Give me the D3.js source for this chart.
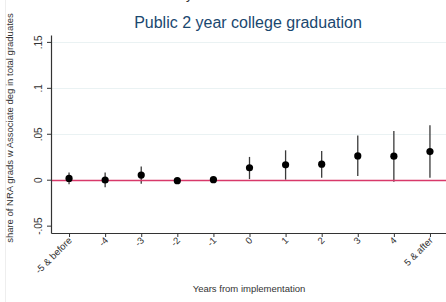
<!DOCTYPE html>
<html>
<head>
<meta charset="utf-8">
<script src="https://cdn.jsdelivr.net/npm/d3@7"></script>
<style>
  body { margin: 0; background: #fff; }
  svg { display: block; font-family: "Liberation Sans", Arial, sans-serif; }
</style>
</head>
<body>
<svg id="chart" width="446" height="302"></svg>
<script>
// event-study estimates
var periods = ["-5 & before", "-4", "-3", "-2", "-1", "0", "1", "2", "3", "4", "5 & after"];
var estimates = [0.0014, -0.0003, 0.005, -0.001, 0.0, 0.013, 0.0162, 0.0169, 0.0259, 0.0256, 0.0306];
var ciLower = [-0.005, -0.0083, -0.0043, -0.003, -0.001, 0.0007, 0.0, 0.0022, 0.004, -0.0022, 0.0022];
var ciUpper = [0.0079, 0.0079, 0.0144, 0.001, 0.001, 0.0248, 0.032, 0.0313, 0.048, 0.053, 0.0594];
var yTicks = [-0.05, 0, 0.05, 0.1, 0.15];
var yTickLabels = ["-.05", "0", ".05", ".1", ".15"];

var svg = d3.select("#chart");

var x = d3.scaleLinear().domain([-0.5, 10.5]).range([51, 448]);
var y = d3.scaleLinear().domain([-0.058, 0.1575]).range([233, 35]);

// faint frame edge on the left
svg.append("line")
  .attr("x1", 5.5).attr("x2", 5.5).attr("y1", 0).attr("y2", 302)
  .style("stroke", "#eeeeee").style("stroke-width", 1);

// cut off text at the very top
svg.append("text")
  .attr("x", 186).attr("y", -1)
  .style("font-size", "13px").style("fill", "#333")
  .text("y");

// gridlines
svg.append("g").selectAll("line")
  .data(yTicks.filter(function(d) { return d > 0; }))
  .enter().append("line")
  .attr("x1", 51).attr("x2", 446)
  .attr("y1", function(d) { return Math.round(y(d)) + 0.5; })
  .attr("y2", function(d) { return Math.round(y(d)) + 0.5; })
  .style("stroke", "#eaf2f3").style("stroke-width", 1);

// points and CIs
svg.append("g").selectAll("line")
  .data(periods)
  .enter().append("line")
  .attr("x1", function(d, i) { return x(i); })
  .attr("x2", function(d, i) { return x(i); })
  .attr("y1", function(d, i) { return y(ciLower[i]); })
  .attr("y2", function(d, i) { return y(ciUpper[i]); })
  .style("stroke", "#3a3a3a").style("stroke-width", 1.3);

// zero line
svg.append("line")
  .attr("x1", 51).attr("x2", 446)
  .attr("y1", Math.round(y(0)) + 0.5).attr("y2", Math.round(y(0)) + 0.5)
  .style("stroke", "#d8386a").style("stroke-width", 1.4);

svg.append("g").selectAll("circle")
  .data(estimates)
  .enter().append("circle")
  .attr("cx", function(d, i) { return x(i); })
  .attr("cy", function(d) { return y(d); })
  .attr("r", 3.6)
  .style("fill", "#000");

// y axis
var yAxis = d3.axisLeft(y)
  .tickValues(yTicks)
  .tickFormat(function(d, i) { return yTickLabels[i]; })
  .tickSize(4)
  .tickSizeOuter(0);

var gy = svg.append("g")
  .attr("transform", "translate(51,0)")
  .call(yAxis);
gy.select(".domain").style("stroke", "#333").style("stroke-width", 1.2);
gy.selectAll(".tick line").style("stroke", "#333");
gy.selectAll(".tick text")
  .attr("transform", "rotate(-90)")
  .attr("x", 0)
  .attr("y", -9)
  .attr("dy", "0")
  .attr("text-anchor", "middle")
  .style("font-size", "10px")
  .style("fill", "#333");

// x axis
var xAxis = d3.axisBottom(x)
  .tickValues(d3.range(periods.length))
  .tickFormat(function(d) { return periods[d]; })
  .tickSize(4)
  .tickSizeOuter(0);

var gx = svg.append("g")
  .attr("transform", "translate(0,233)")
  .call(xAxis);
gx.select(".domain").style("stroke", "#333").style("stroke-width", 1.2);
gx.selectAll(".tick line").style("stroke", "#333");
gx.selectAll(".tick text")
  .attr("y", 0)
  .attr("dy", 0)
  .attr("text-anchor", "end")
  .attr("transform", "translate(3,8) rotate(-45)")
  .style("font-size", "9.5px")
  .style("fill", "#333");

// titles
svg.append("text")
  .attr("x", 248).attr("y", 28)
  .attr("text-anchor", "middle")
  .style("font-size", "16px")
  .style("fill", "#1a476f")
  .text("Public 2 year college graduation");

svg.append("text")
  .attr("x", 249).attr("y", 292)
  .attr("text-anchor", "middle")
  .style("font-size", "9.5px")
  .style("fill", "#333")
  .text("Years from implementation");

svg.append("text")
  .attr("transform", "translate(13,128) rotate(-90)")
  .attr("text-anchor", "middle")
  .style("font-size", "9.5px")
  .style("fill", "#333")
  .text("share of NRA grads w Associate deg in total graduates");
</script>
</body>
</html>
